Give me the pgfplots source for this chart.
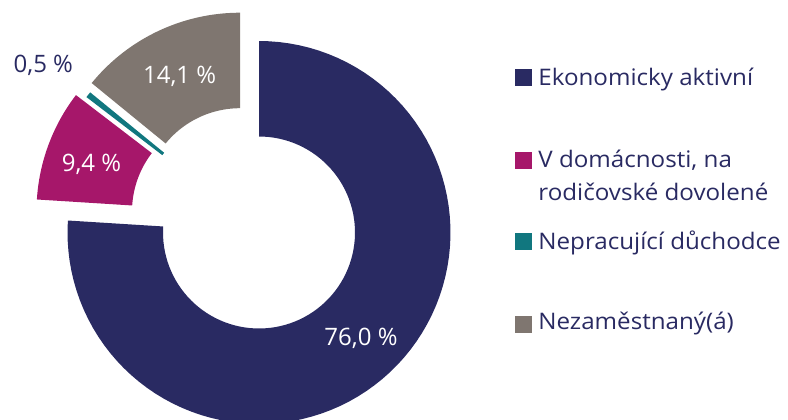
\documentclass[border=0pt]{standalone}
\usepackage{pgfplots}
\pgfplotsset{compat=1.18}
\usepackage{fontspec}
\setmainfont{Open Sans}
\newfontfamily\legfont{Open Sans}[FakeStretch=1.06]

\definecolor{navy}{HTML}{292A62}
\definecolor{magenta}{HTML}{A6176A}
\definecolor{teal}{HTML}{11777F}
\definecolor{warmgrey}{HTML}{7F7670}

% shares in percent, clockwise from 12 o'clock
\pgfmathsetmacro\aA{90}
\pgfmathsetmacro\aB{\aA-3.6*76.0}
\pgfmathsetmacro\aC{\aB-3.6*9.4}
\pgfmathsetmacro\aD{\aC-3.6*0.5}
\pgfmathsetmacro\aE{\aD-3.6*14.1}

% ring segment: colour, start angle, end angle, shift x, shift y
\newcommand{\ring}[5]{%
  \addplot[fill=#1, draw=none, samples at={0,1,...,90,100,101,...,190}, variable=\t]
    ({259+#4+ifthenelse(\t<95, 191.5*cos(#2+(#3-#2)*\t/90), 96*cos(#3+(#2-#3)*(\t-100)/90))},
     {186.5+#5+ifthenelse(\t<95, 191.5*sin(#2+(#3-#2)*\t/90), 96*sin(#3+(#2-#3)*(\t-100)/90))});
}

\begin{document}
\begin{tikzpicture}
\begin{axis}[
    x=0.5pt, y=0.5pt,
    xmin=0, xmax=788, ymin=0, ymax=419,
    hide axis,
    clip=true,
]
\ring{navy}{\aA}{\aB}{0}{0}
\ring{magenta}{\aB}{\aC}{-31}{21}
\ring{teal}{\aC}{\aD}{-20.5}{19}
\ring{warmgrey}{\aD}{\aE}{-19}{28.3}

% legend keys
\addplot[only marks, mark=square*, mark size=4pt, navy] coordinates {(523,341.3)};
\addplot[only marks, mark=square*, mark size=4pt, magenta] coordinates {(523,258.5)};
\addplot[only marks, mark=square*, mark size=4pt, teal] coordinates {(523,177.3)};
\addplot[only marks, mark=square*, mark size=4pt, warmgrey] coordinates {(523,95)};

\begin{scope}[every node/.style={font=\legfont\fontsize{11.4pt}{13pt}\selectfont, text=navy, anchor=base west, inner sep=0pt}]
\node at (axis cs:538,333.5) {Ekonomicky aktivní};
\node at (axis cs:538,251.7) {V domácnosti, na};
\node at (axis cs:538,218.3) {rodičovské dovolené};
\node at (axis cs:538,170) {Nepracující důchodce};
\node at (axis cs:538,89.7) {Nezaměstnaný(á)};
\end{scope}

\begin{scope}[every node/.style={font=\fontsize{12pt}{14pt}\selectfont, anchor=base, inner sep=0pt}]
\node[text=navy] at (axis cs:43.3,346.7) {0,5 \%};
\node[text=white] at (axis cs:179.6,335.7) {14,1 \%};
\node[text=white] at (axis cs:91.5,247.3) {9,4 \%};
\node[text=white] at (axis cs:361,74) {76,0 \%};
\end{scope}

\coordinate (bl) at (axis cs:0,0);
\coordinate (tr) at (axis cs:788,419);
\end{axis}
\pgfresetboundingbox
\path[use as bounding box] (bl) rectangle (tr);
\end{tikzpicture}
\end{document}
